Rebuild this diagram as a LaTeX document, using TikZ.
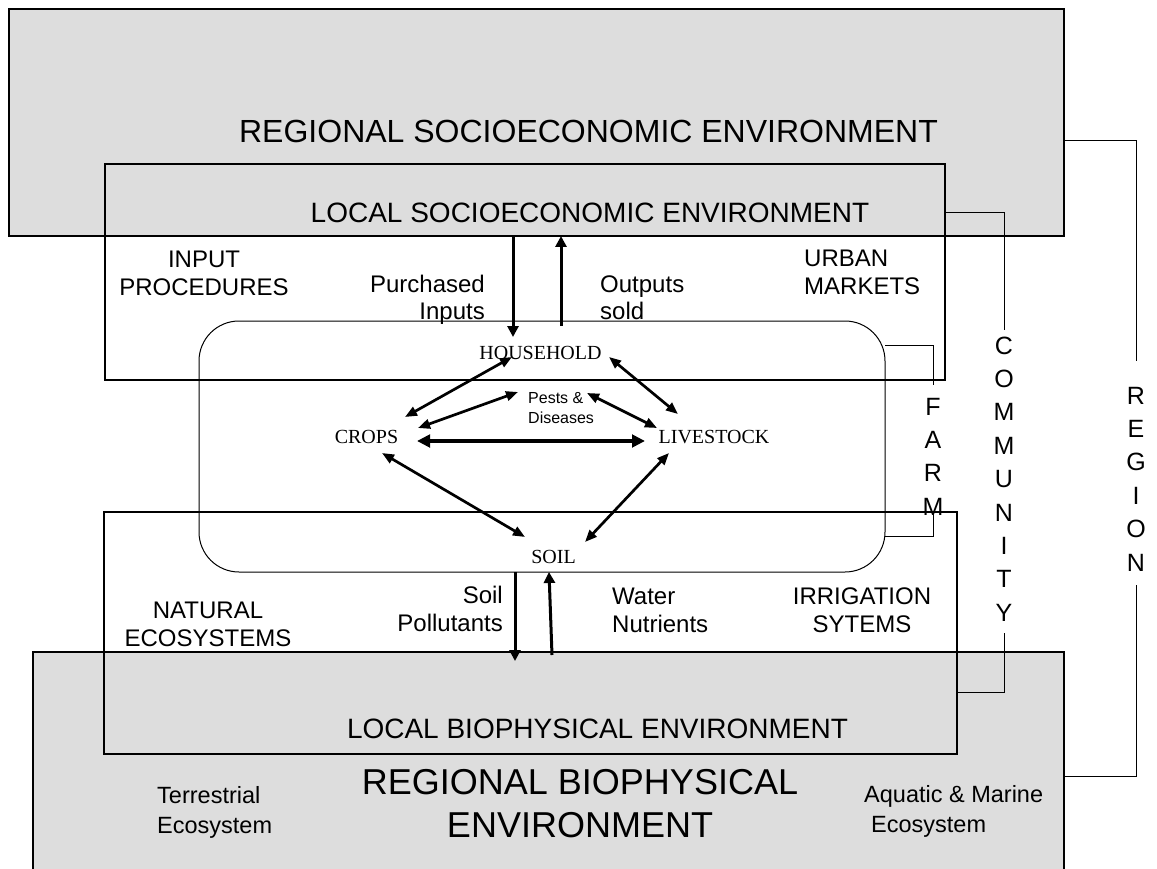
\documentclass[tikz,border=0pt]{standalone}
\usepackage{fontspec}
\setmainfont{Liberation Sans}
\newfontfamily\serifface{Liberation Serif}
\usetikzlibrary{arrows.meta,calc}
\definecolor{boxgray}{RGB}{221,221,221}
\newcommand{\twoline}[3][c]{\begin{tabular}[t]{@{}#1@{}}#2\\#3\end{tabular}}
\newcommand{\vletters}[1]{\begin{tabular}[t]{@{}c@{}}#1\end{tabular}}
\begin{document}
\begin{tikzpicture}[x=1pt,y=-1pt,
  boxline/.style={line width=1.4pt, draw=black},
  brk/.style={line width=1pt, draw=black},
  farmline/.style={line width=1pt, draw=black, rounded corners=40pt},
  lbl/.style={inner sep=0pt, font=\fontsize{24}{28}\selectfont},
  terl/.style={inner sep=0pt, font=\fontsize{23.5}{30}\selectfont},
  bigl/.style={inner sep=0pt, font=\fontsize{28}{33}\selectfont},
  hugel/.style={inner sep=0pt, font=\fontsize{32}{38}\selectfont},
  rbl/.style={inner sep=0pt, font=\fontsize{36}{43}\selectfont},
  serl/.style={inner sep=0pt, font=\serifface\fontsize{20}{24}\selectfont},
  smalll/.style={inner sep=0pt, font=\fontsize{16}{20}\selectfont},
  vert/.style={inner sep=0pt, font=\fontsize{25}{33.4}\selectfont},
  flow/.style={line width=2.7pt, {Triangle[length=12pt,width=9.5pt]}-{Triangle[length=12pt,width=9.5pt]}},
  flowthick/.style={line width=3.6pt, {Triangle[length=13pt,width=12.5pt]}-{Triangle[length=13pt,width=12.5pt]}},
  vflow/.style={line width=3pt, -{Triangle[length=11pt,width=11pt]}}
]
\useasboundingbox (0,0) rectangle (1157,869);

% environment boxes
\fill[boxgray] (9,9) rectangle (1064,236);
\draw[boxline] (9,9) rectangle (1064,236);
\fill[boxgray] (33,652) rectangle (1064,869);
\draw[boxline] (33,869) -- (33,652) -- (1064,652) -- (1064,869);
\draw[boxline] (105,164) rectangle (945,380);
\draw[boxline] (104,512) rectangle (957,754);
\draw[farmline] (199,321) rectangle (885,572);

% labels
\node[hugel, anchor=base] (rse) at (588.5,143) {REGIONAL SOCIOECONOMIC ENVIRONMENT};
\node[bigl, anchor=base] (lse) at (590,223) {LOCAL SOCIOECONOMIC ENVIRONMENT};
\node[lbl, anchor=base] (inp) at (204,268) {\twoline{INPUT}{PROCEDURES}};
\node[lbl, anchor=base east] (purch) at (485,292) {\twoline[r]{Purchased}{Inputs}};
\node[lbl, anchor=base west] (outs) at (600,292) {\twoline[l]{Outputs}{sold}};
\node[lbl, anchor=base west] (urban) at (804,267) {\twoline[l]{URBAN}{MARKETS}};
\node[serl, anchor=base] (hh) at (540.5,359) {HOUSEHOLD};
\node[smalll, anchor=base west] (pests) at (528,403) {\twoline[l]{Pests \&}{Diseases}};
\node[serl, anchor=base] (crops) at (366.5,443) {CROPS};
\node[serl, anchor=base] (live) at (714,443) {LIVESTOCK};
\node[serl, anchor=base] (soil) at (553.5,563) {SOIL};
\node[lbl, anchor=base east] (spol) at (503,603) {\twoline[r]{Soil}{Pollutants}};
\node[lbl, anchor=base west] (water) at (612,604) {\twoline[l]{Water}{Nutrients}};
\node[lbl, anchor=base] (nat) at (208,618) {\twoline{NATURAL}{ECOSYSTEMS}};
\node[lbl, anchor=base] (irr) at (862,604) {\twoline{IRRIGATION}{SYTEMS}};
\node[bigl, anchor=base] (lbe) at (597.5,738) {LOCAL BIOPHYSICAL ENVIRONMENT};
\node[rbl, anchor=base] (rbe) at (580,794) {\twoline{REGIONAL BIOPHYSICAL}{ENVIRONMENT}};
\node[terl, anchor=base west] (terr) at (157,803) {\twoline[l]{Terrestrial}{Ecosystem}};
\node[terl, anchor=base west] (aqua) at (864,802) {\twoline[l]{Aquatic \& Marine}{\hspace*{7pt}Ecosystem}};
\node[vert, anchor=base] (farm) at (933,415) {\vletters{F\\A\\R\\M}};
\node[vert, anchor=base] (comm) at (1004,354) {\vletters{C\\O\\M\\M\\U\\N\\I\\T\\Y}};
\node[vert, anchor=base] (reg) at (1136,404) {\vletters{R\\E\\G\\I\\O\\N}};

% brackets
\draw[brk] (885,345) -| (933,385);
\draw[brk] (933,514) |- (885,536);
\draw[brk] (945,213) -| (1004,330);
\draw[brk] (1004,633) |- (957,692);
\draw[brk] (1064,141) -| (1136,361);
\draw[brk] (1136,585) |- (1064,776);

% farm interactions
\draw[flow] ($(hh.base)+(-28.5,-2)$) -- ($(crops.base)+(38.5,-26)$);
\draw[flow] ($(pests.base west)+(-10,-11)$) -- ($(crops.base)+(51.5,-15)$);
\draw[flowthick] ($(crops.base)+(50.5,-2)$) -- ($(live.base)+(-69,-2)$);
\draw[flow] ($(pests.base west)+(59,-10)$) -- ($(live.base)+(-57,-15)$);
\draw[flow] ($(hh.base)+(68.5,-2)$) -- ($(live.base)+(-36,-29)$);
\draw[flow] ($(crops.base)+(15.5,10)$) -- ($(soil.base)+(-28.5,-26)$);
\draw[flow] ($(live.base)+(-45,10)$) -- ($(soil.base)+(31.5,-21)$);

% exchanges with environments
\coordinate (pIn) at (513,236);
\coordinate (oOut) at (561,236);
\coordinate (sOut) at (515,661);
\coordinate (wIn) at (552,655);
\draw[vflow] (pIn) -- ($(hh.base)+(-27.5,-22)$);
\draw[vflow] ($(hh.base)+(20.5,-33)$) -- (oOut);
\draw[vflow] ($(soil.base)+(-38.5,9)$) -- (sOut);
\draw[vflow] (wIn) -- ($(soil.base)+(-4.5,9)$);
\end{tikzpicture}
\end{document}
